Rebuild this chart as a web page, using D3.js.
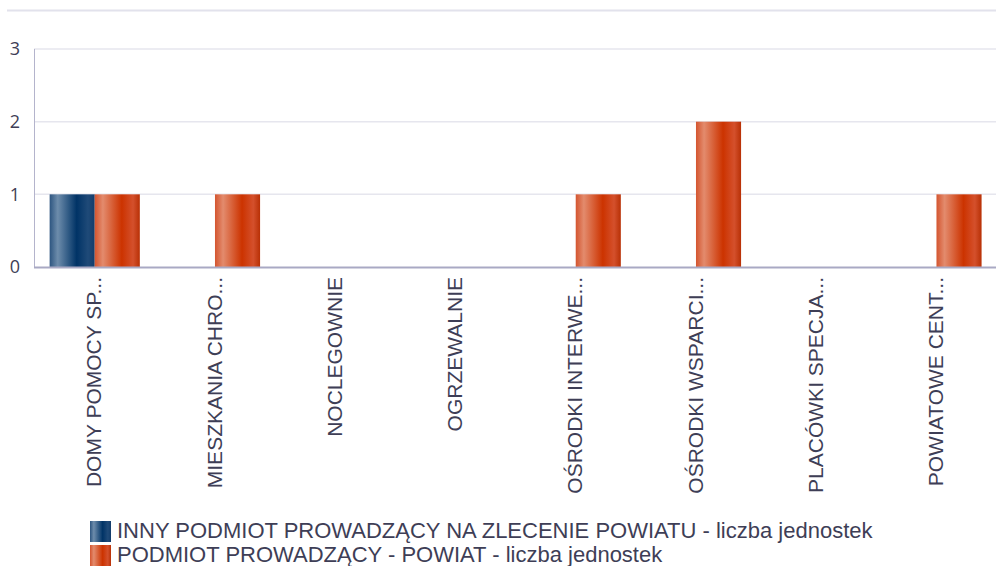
<!DOCTYPE html>
<html>
<head>
<meta charset="utf-8">
<script src="https://cdn.jsdelivr.net/npm/d3@7"></script>
<style>
  html, body { margin: 0; padding: 0; background: #fff; }
  svg { display: block; }
</style>
</head>
<body>
<div id="chart"></div>
<script>
// dane wykresu
const categories = ['DOMY POMOCY SP...', 'MIESZKANIA CHRO...', 'NOCLEGOWNIE', 'OGRZEWALNIE',
  'OŚRODKI INTERWE...', 'OŚRODKI WSPARCI...', 'PLACÓWKI SPECJA...', 'POWIATOWE CENT...']
const seriesNames = ['INNY PODMIOT PROWADZĄCY NA ZLECENIE POWIATU - liczba jednostek',
  'PODMIOT PROWADZĄCY - POWIAT - liczba jednostek']
const innyValues = [1, 0, 0, 0, 0, 0, 0, 0]
const powiatValues = [1, 1, 0, 0, 1, 2, 0, 1]
const yTicks = [0, 1, 2, 3]

const width = 996
const height = 566
const margin = { top: 49, right: 0, bottom: 299, left: 34 }
const textColor = '#3e3e56'

const svg = d3.select('#chart').append('svg')
  .attr('width', width)
  .attr('height', height)

// gradienty słupków
const defs = svg.append('defs')
const gradients = [
  { id: 'gradBlue', stops: [['0%', '#2d5580'], ['18%', '#6d8cab'], ['60%', '#003366'], ['85%', '#1f4a78'], ['100%', '#123c6b']] },
  { id: 'gradOrange', stops: [['0%', '#d4552f'], ['18%', '#e38b6d'], ['60%', '#cc3300'], ['85%', '#d4502c'], ['100%', '#b83005']] }
]
gradients.forEach(g => {
  const lg = defs.append('linearGradient').attr('id', g.id)
    .attr('x1', '0%').attr('x2', '100%').attr('y1', '0%').attr('y2', '0%')
  g.stops.forEach(s => lg.append('stop').attr('offset', s[0]).attr('stop-color', s[1]))
})
const fills = ['url(#gradBlue)', 'url(#gradOrange)']

// linia pod tytułem
svg.append('line')
  .attr('x1', 7).attr('x2', width)
  .attr('y1', 10.5).attr('y2', 10.5)
  .attr('stroke', '#e2e2ec')
  .attr('stroke-width', 2)

const plotBottom = height - margin.bottom

const x0 = d3.scaleBand()
  .domain(categories)
  .range([margin.left, width - margin.right])
  .padding(0)

const x1 = d3.scaleBand()
  .domain([0, 1])
  .range([x0.bandwidth() * 0.13, x0.bandwidth() * 0.88])
  .padding(0)

const y = d3.scaleLinear()
  .domain([0, 3])
  .range([plotBottom, margin.top])

// siatka
svg.append('g')
  .selectAll('line')
  .data(yTicks.filter(d => d > 0))
  .join('line')
  .attr('x1', margin.left).attr('x2', width)
  .attr('y1', d => y(d)).attr('y2', d => y(d))
  .attr('stroke', '#e6e6ee')
  .attr('stroke-width', 1.5)

// słupki
const rows = categories.map((c, i) => ({ cat: c, values: [innyValues[i], powiatValues[i]] }))
svg.append('g')
  .selectAll('g')
  .data(rows)
  .join('g')
  .attr('transform', d => `translate(${x0(d.cat)},0)`)
  .selectAll('rect')
  .data(d => d.values.map((v, k) => ({ k, v })))
  .join('rect')
  .attr('x', d => x1(d.k))
  .attr('width', x1.bandwidth())
  .attr('y', d => y(d.v))
  .attr('height', d => plotBottom - y(d.v))
  .attr('fill', d => fills[d.k])

// oś Y
svg.append('line')
  .attr('x1', margin.left + 0.5).attr('x2', margin.left + 0.5)
  .attr('y1', margin.top).attr('y2', plotBottom)
  .attr('stroke', '#b4b4cc')
  .attr('stroke-width', 1)

svg.append('g')
  .selectAll('text')
  .data(yTicks)
  .join('text')
  .attr('x', 20)
  .attr('y', d => y(d))
  .attr('dy', '0.36em')
  .attr('text-anchor', 'end')
  .style('font-family', '"Open Sans", sans-serif')
  .style('font-size', '18px')
  .style('fill', textColor)
  .text(d => d)

// oś X
svg.append('line')
  .attr('x1', margin.left).attr('x2', width)
  .attr('y1', plotBottom + 0.5).attr('y2', plotBottom + 0.5)
  .attr('stroke', '#a9a9c4')
  .attr('stroke-width', 2)

svg.append('g')
  .selectAll('text')
  .data(categories)
  .join('text')
  .attr('transform', d => `translate(${x0(d) + x0.bandwidth() / 2},${plotBottom + 10}) rotate(-90)`)
  .attr('text-anchor', 'end')
  .attr('dy', '0.35em')
  .style('font-family', '"Liberation Sans", Arial, sans-serif')
  .style('font-size', '21px')
  .style('fill', textColor)
  .text(d => d)

// legenda
const legend = svg.append('g')
  .selectAll('g')
  .data(seriesNames)
  .join('g')
  .attr('transform', (d, i) => `translate(90,${521 + i * 24})`)

legend.append('rect')
  .attr('width', 21)
  .attr('height', 21)
  .attr('fill', (d, i) => fills[i])

legend.append('text')
  .attr('x', 27)
  .attr('y', 17)
  .style('font-family', '"Liberation Sans", Arial, sans-serif')
  .style('font-size', '22px')
  .style('fill', textColor)
  .text(d => d)
</script>
</body>
</html>
